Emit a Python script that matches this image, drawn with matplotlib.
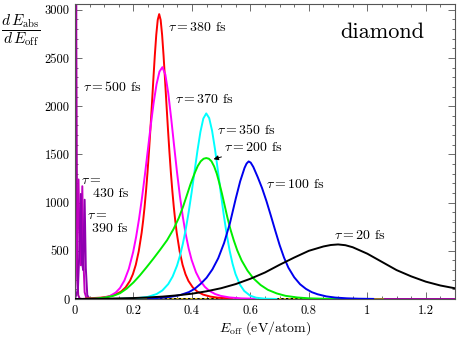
import matplotlib
matplotlib.use("Agg")
import matplotlib.pyplot as plt
from matplotlib.ticker import MultipleLocator, FixedLocator, FixedFormatter

plt.rcParams['font.family'] = ['cmr10', 'DejaVu Serif']
plt.rcParams['mathtext.fontset'] = 'cm'
plt.rcParams['axes.formatter.use_mathtext'] = True

# ---------------- data ----------------
x_ticks = [0, 0.2, 0.4, 0.6, 0.8, 1.0, 1.2]
x_tick_labels = ["0", "0.2", "0.4", "0.6", "0.8", "1", "1.2"]
y_ticks = [0, 500, 1000, 1500, 2000, 2500, 3000]
y_tick_labels = ["0", "500", "1000", "1500", "2000", "2500", "3000"]

# tau = 500 fs : spike at E ~ 0
t500_x = [0.0, 0.002, 0.004, 0.006, 0.008, 0.011, 0.016, 0.025, 1.3]
t500_y = [0, 1600, 3150, 1500, 250, 40, 5, 0, 0]

# tau = 430 fs
t430_x = [0.0, 0.006, 0.012, 0.016, 0.020, 0.025, 0.029, 0.033, 0.039, 0.048]
t430_y = [0, 500, 1240, 450, 350, 1170, 380, 70, 10, 0]

# tau = 390 fs
t390_x = [0.0, 0.010, 0.015, 0.020, 0.024, 0.028, 0.033, 0.037, 0.042, 0.050]
t390_y = [0, 100, 500, 1090, 380, 300, 1030, 320, 40, 0]

# tau = 380 fs
t380_x = [0.038, 0.088, 0.113, 0.138, 0.158, 0.173, 0.188, 0.198, 0.208, 0.218,
          0.228, 0.233, 0.238, 0.243, 0.248, 0.253, 0.258, 0.263, 0.268, 0.273,
          0.278, 0.283, 0.288, 0.293, 0.298, 0.303, 0.308, 0.313, 0.318, 0.323,
          0.328, 0.333, 0.338, 0.343, 0.348, 0.358, 0.368, 0.378, 0.388, 0.403,
          0.418, 0.438, 0.463, 0.488, 0.538]
t380_y = [6, 14, 25, 46, 78, 120, 188, 257, 355, 494,
          687, 810, 954, 1121, 1311, 1527, 1763, 2015, 2275, 2524,
          2740, 2895, 2955, 2895, 2740, 2524, 2275, 2015, 1763, 1527,
          1311, 1121, 954, 810, 687, 494, 355, 257, 188, 120,
          78, 46, 25, 14, 6]

# tau = 370 fs
t370_x = [0.029, 0.069, 0.099, 0.119, 0.139, 0.154, 0.169, 0.184, 0.199, 0.209,
          0.219, 0.229, 0.239, 0.249, 0.259, 0.269, 0.279, 0.289, 0.299, 0.309,
          0.319, 0.329, 0.339, 0.349, 0.359, 0.369, 0.379, 0.389, 0.399, 0.414,
          0.429, 0.444, 0.459, 0.479, 0.499, 0.529, 0.569, 0.619]
t370_y = [1, 4, 13, 30, 66, 114, 192, 312, 488, 643,
          829, 1045, 1285, 1541, 1797, 2034, 2228, 2359, 2405, 2329,
          2135, 1875, 1591, 1315, 1065, 849, 669, 522, 405, 276,
          187, 127, 86, 52, 32, 16, 6.5, 2.4]

# tau = 350 fs
t350_x = [0.149, 0.209, 0.249, 0.279, 0.299, 0.319, 0.334, 0.349, 0.359, 0.369,
          0.379, 0.389, 0.399, 0.409, 0.419, 0.429, 0.439, 0.449, 0.459, 0.469,
          0.479, 0.489, 0.499, 0.509, 0.519, 0.529, 0.539, 0.549, 0.564, 0.579,
          0.599, 0.619, 0.649, 0.689]
t350_y = [1.7, 7.6, 22, 51, 89, 155, 233, 346, 448, 573,
          725, 904, 1106, 1323, 1540, 1733, 1872, 1925, 1877, 1745,
          1553, 1327, 1093, 870, 671, 502, 366, 260, 150, 83,
          35, 14, 3.2, 0.4]

# tau = 200 fs
t200_x = [0.03, 0.07, 0.10, 0.13, 0.154, 0.177, 0.2, 0.222, 0.245, 0.268,
          0.291, 0.315, 0.337, 0.355, 0.370, 0.382, 0.395, 0.41, 0.42, 0.43,
          0.44, 0.449, 0.458, 0.467, 0.476, 0.485, 0.494, 0.503, 0.512, 0.521,
          0.532, 0.543, 0.555, 0.57, 0.59, 0.61, 0.635, 0.66, 0.69, 0.72,
          0.76, 0.80, 0.86, 0.92]
t200_y = [1, 5, 14, 32, 60, 108, 172, 245, 330, 418,
          510, 610, 725, 840, 960, 1070, 1190, 1310, 1380, 1428,
          1455, 1462, 1455, 1428, 1375, 1300, 1200, 1090, 970, 850,
          720, 610, 505, 400, 295, 215, 145, 95, 58, 33,
          16, 7, 2, 0.5]

# tau = 100 fs
t100_x = [0.25, 0.30, 0.33, 0.36, 0.39, 0.41, 0.43, 0.45, 0.47, 0.49,
          0.51, 0.53, 0.55, 0.565, 0.58, 0.587, 0.594, 0.601, 0.61, 0.625,
          0.64, 0.655, 0.67, 0.685, 0.70, 0.715, 0.73, 0.75, 0.77, 0.79,
          0.81, 0.83, 0.86, 0.89, 0.93, 0.97, 1.02]
t100_y = [6, 14, 24, 41, 72, 107, 158, 220, 307, 423,
          581, 786, 1042, 1220, 1360, 1405, 1427, 1415, 1370, 1265,
          1150, 1015, 865, 710, 560, 430, 325, 225, 153, 105,
          71, 49, 27, 15, 7, 3, 1]

# tau = 20 fs
t20_x = [0.0, 0.1, 0.2, 0.25, 0.30, 0.35, 0.40, 0.45, 0.50, 0.55,
         0.60, 0.65, 0.70, 0.75, 0.80, 0.85, 0.875, 0.90, 0.925, 0.95,
         1.00, 1.05, 1.10, 1.15, 1.20, 1.25, 1.30]
t20_y = [0, 3, 10, 16, 25, 38, 55, 80, 112, 155,
         210, 275, 355, 430, 500, 545, 560, 566, 558, 537,
         470, 385, 300, 235, 180, 140, 111]

# flat (zero) curves of further runs lying on the axis
flat_olive_x = [0.0, 1.055]
flat_olive_y = [0, 0]
flat_dotted_x = [0.267, 0.908]
flat_dotted_y = [0, 0]

# ---------------- figure ----------------
fig = plt.figure(figsize=(4.59, 3.41), dpi=100)
ax = fig.add_axes([75 / 459, 42 / 341, 380 / 459, 295 / 341])

lw = 1.4
purple = '#a000a0'
ax.plot(t500_x, t500_y, color=purple, lw=lw, zorder=2)
ax.plot(flat_olive_x, flat_olive_y, color='#a07820', lw=lw, zorder=2.1)
ax.plot(flat_dotted_x, flat_dotted_y, color='black', lw=lw, zorder=2.2)
ax.plot(flat_dotted_x, flat_dotted_y, color='#e8d000', lw=lw, ls=(0, (1.2, 1.2)), zorder=2.3)
ax.plot(t430_x, t430_y, color='#c000c0', lw=lw, zorder=2)
ax.plot(t390_x, t390_y, color='#9000b0', lw=lw, zorder=2)
ax.plot(t380_x, t380_y, color='#ff0000', lw=lw, zorder=3)
ax.plot(t370_x, t370_y, color='#ff00ff', lw=lw, zorder=3)
ax.plot(t350_x, t350_y, color='#00ffff', lw=lw, zorder=3)
ax.plot(t200_x, t200_y, color='#00ee00', lw=lw, zorder=3)
ax.plot(t100_x, t100_y, color='#0000ee', lw=lw, zorder=3)
ax.plot(t20_x, t20_y, color='black', lw=lw, zorder=3)

ax.set_xlim(0, 1.3)
ax.set_ylim(0, 3060)
ax.xaxis.set_major_locator(FixedLocator(x_ticks))
ax.xaxis.set_major_formatter(FixedFormatter(x_tick_labels))
ax.yaxis.set_major_locator(FixedLocator(y_ticks))
ax.yaxis.set_major_formatter(FixedFormatter(y_tick_labels))
ax.xaxis.set_minor_locator(MultipleLocator(0.05))
ax.yaxis.set_minor_locator(MultipleLocator(100))
ax.tick_params(which='both', direction='in', top=True, right=True, labelsize=9,
               color='#555555', width=0.6)
ax.tick_params(which='major', length=5, pad=4)
ax.tick_params(which='minor', length=2.5)
for s in ax.spines.values():
    s.set_color('#555555')
    s.set_linewidth(0.8)

ax.set_xlabel(r'$E_{\rm off}$ (eV/atom)', fontsize=10, labelpad=2)
fig.text(21 / 459, 1 - 30 / 341, r'$\dfrac{d\,E_{\rm abs}}{d\,E_{\rm off}}$',
         fontsize=11, ha='center', va='center')

ax.text(0.81, 0.905, 'diamond', transform=ax.transAxes, fontsize=16,
        ha='center', va='center')

fs = 10
ax.text(0.318, 2818, r'$\tau=380$ fs', fontsize=fs, ha='left', va='center')
ax.text(0.027, 2194, r'$\tau=500$ fs', fontsize=fs, ha='left', va='center')
ax.text(0.342, 2070, r'$\tau=370$ fs', fontsize=fs, ha='left', va='center')
ax.text(0.486, 1758, r'$\tau=350$ fs', fontsize=fs, ha='left', va='center')
ax.annotate(r'$\tau=200$ fs', xy=(0.474, 1450), xytext=(0.51, 1570),
            fontsize=fs, ha='left', va='center',
            arrowprops=dict(arrowstyle='-|>', color='black', lw=0.7,
                            mutation_scale=7, shrinkA=0, shrinkB=0))
ax.text(0.654, 1186, r'$\tau=100$ fs', fontsize=fs, ha='left', va='center')
ax.text(0.887, 655, r'$\tau=20$ fs', fontsize=fs, ha='left', va='center')
ax.text(0.022, 1228, r'$\tau=$', fontsize=fs, ha='left', va='center')
ax.text(0.062, 1092, '430 fs', fontsize=fs, ha='left', va='center')
ax.text(0.041, 863, r'$\tau=$', fontsize=fs, ha='left', va='center')
ax.text(0.059, 728, '390 fs', fontsize=fs, ha='left', va='center')

fig.savefig('out.png', dpi=100)
